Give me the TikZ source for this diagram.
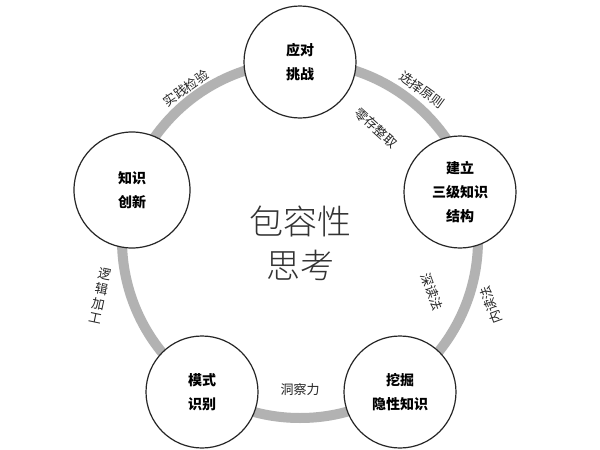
\documentclass[tikz,border=0pt]{standalone}
\usepackage{fontspec}
\newfontfamily\cjk{Noto Sans CJK SC}
\newfontfamily\cjkl{Noto Sans CJK SC Light}
\begin{document}
\begin{tikzpicture}[x=1pt,y=-1pt,
  nd/.style={circle,draw=black!85,line width=1.2pt,fill=white,minimum size=112pt,align=center,font=\cjk\bfseries\fontsize{14}{24}\selectfont},
  lb/.style={font=\cjk\fontsize{13}{14}\selectfont,text=black!85}]
\useasboundingbox (0,0) rectangle (600,450);
\fill[white] (0,0) rectangle (600,450);
\draw[black!30,line width=10pt] (300,240) circle (178);
\node[nd] (a) at (300,62) {应对\\挑战};
\node[nd] (b) at (460,192) {建立\\三级知识\\结构};
\node[nd] (c) at (400,392) {挖掘\\隐性知识};
\node[nd] (d) at (202,392) {模式\\识别};
\node[nd,minimum size=116pt] (e) at (132,190) {知识\\创新};
\node[font=\cjkl\fontsize{34}{44}\selectfont,align=center,text=black!80] (m) at (300,243) {包容性\\思考};
\node[lb,rotate=35] (l1) at (186,88) {实践检验};
\node[lb,rotate=-36] (l2) at (422,90) {选择原则};
\node[lb,rotate=-42] (l3) at (376,128) {零存整取};
\node[lb,rotate=-70] (l4) at (432,292) {深读法};
\node[lb,rotate=110] (l5) at (491,305) {内读法};
\node[lb] (l6) at (300,390) {洞察力};
\node[lb,rotate=-12,align=center,font=\cjk\fontsize{13}{15}\selectfont] (l7) at (100,296) {逻\\辑\\加\\工};
\end{tikzpicture}
\end{document}
